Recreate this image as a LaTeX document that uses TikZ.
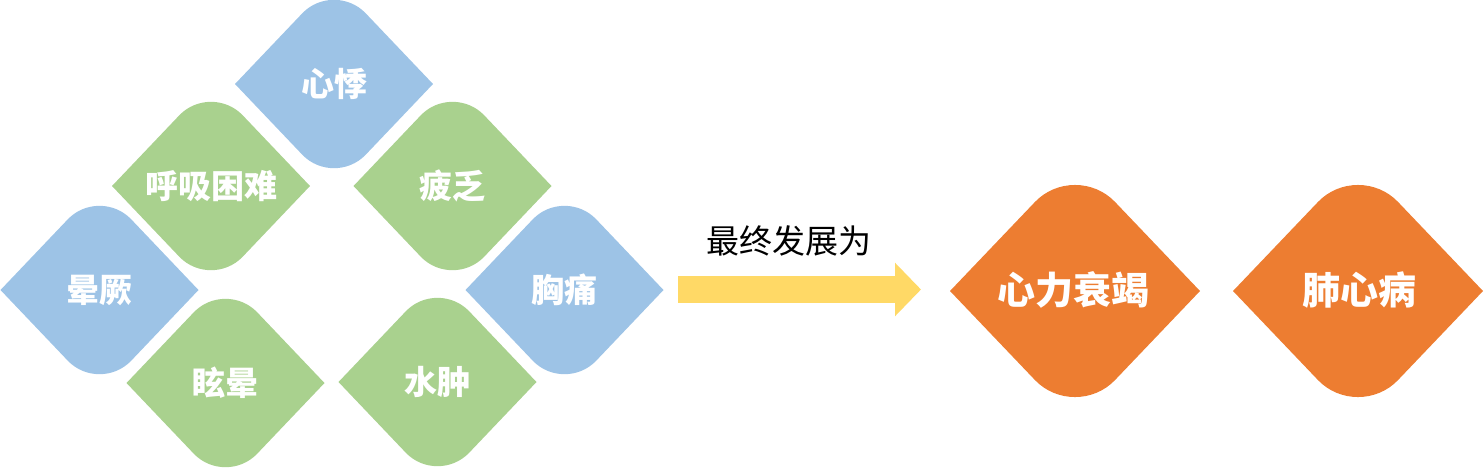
\documentclass[tikz,border=0pt]{standalone}
\usepackage{fontspec}
\newfontfamily\cjk{Noto Sans CJK SC}
\usetikzlibrary{arrows.meta, calc}
\pgfdeclarelayer{bg}
\pgfsetlayers{bg,main}
\definecolor{symblue}{HTML}{9DC3E6}
\definecolor{symgreen}{HTML}{A9D18E}
\definecolor{endorange}{HTML}{ED7D31}
\definecolor{arryellow}{HTML}{FFD966}
% rounded diamond behind a node: name, half width, half height, corner, colour
\newcommand{\rdia}[5]{%
  \path (#1.center) +(-#2,0) coordinate (dw) +(0,#3) coordinate (dn)
        +(#2,0) coordinate (de) +(0,-#3) coordinate (ds);
  \fill[#5] (dw) -- ($(dn)!#4!(dw)$)
     .. controls ($(dn)!{0.46*#4}!(dw)$) and ($(dn)!{0.46*#4}!(de)$) .. ($(dn)!#4!(de)$)
     -- (de) -- ($(ds)!#4!(de)$)
     .. controls ($(ds)!{0.46*#4}!(de)$) and ($(ds)!{0.46*#4}!(dw)$) .. ($(ds)!#4!(dw)$)
     -- cycle;
}

\begin{document}
\begin{tikzpicture}[x=1pt, y=1pt,
    sym/.style={font=\cjk\bfseries\fontsize{33}{33}\selectfont, text=white},
    big/.style={font=\cjk\bfseries\fontsize{38}{38}\selectfont, text=white},
    lbl/.style={font=\cjk\fontsize{33}{33}\selectfont},
    arrow/.style={-{Triangle[length=26pt, width=52pt]}, line width=26.5pt, arryellow}
]
    \useasboundingbox (0,0) rectangle (1484,-467);

    % 症状
    \node[sym] (xinji) at (334,-84) {心悸};
    \node[sym] (huxi) at (211,-186) {呼吸困难};
    \node[sym] (pifa) at (452.5,-186) {疲乏};
    \node[sym] (yunjue) at (99.5,-290) {晕厥};
    \node[sym] (xiongtong) at (564.5,-290) {胸痛};
    \node[sym] (xuanyun) at (225.5,-383) {眩晕};
    \node[sym] (shuizhong) at (437.5,-382) {水肿};

    % 结果
    \node[big] (shuaijie) at (1073,-290) {心力衰竭};
    \node[big] (feixin) at (1359,-290) {肺心病};

    % 箭头
    \coordinate (arrS) at (678,-289.5);
    \coordinate (arrE) at (921,-289.5);
    \draw[arrow] (arrS) -- (arrE);
    \node[lbl] (fazhan) at (789,-241) {最终发展为};

    % 背景菱形
    \begin{pgfonlayer}{bg}
    \foreach \n/\c in {xinji/symblue, huxi/symgreen, pifa/symgreen, yunjue/symblue,
                       xiongtong/symblue, xuanyun/symgreen, shuizhong/symgreen}
      {\rdia{\n}{99}{104}{46pt}{\c}}
    \path (shuaijie.center) ++(2,-1) coordinate (shuaijieC);
    \path (feixin.center) ++(-1,-1) coordinate (feixinC);
    \rdia{shuaijieC}{125}{131}{58pt}{endorange}
    \rdia{feixinC}{125}{131}{58pt}{endorange}
    \end{pgfonlayer}
\end{tikzpicture}
\end{document}
